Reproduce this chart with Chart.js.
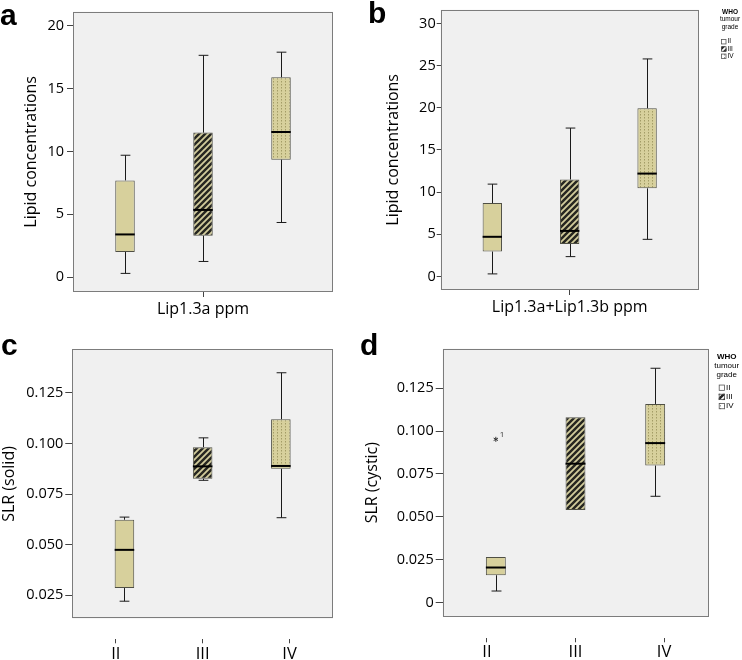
<!DOCTYPE html>
<html>
<head>
<meta charset="utf-8">
<script src="https://cdn.jsdelivr.net/npm/chart.js@4.4.1/dist/chart.umd.min.js"></script>
<style>
  body { margin: 0; background: #fff; }
  #wrap { position: relative; width: 742px; height: 660px; overflow: hidden; }
  canvas { position: absolute; }
  .tag { position: absolute; font: bold 30px "Liberation Sans", Arial, sans-serif; line-height: 1; color: #000; z-index: 2; }
</style>
</head>
<body>
<div id="wrap">
  <canvas id="chartA" width="340" height="330" style="left:0;top:0"></canvas>
  <canvas id="chartB" width="407" height="330" style="left:335px;top:0"></canvas>
  <canvas id="chartC" width="340" height="330" style="left:0;top:330px"></canvas>
  <canvas id="chartD" width="407" height="330" style="left:335px;top:330px"></canvas>
  <div class="tag" style="left:0;top:-0.5px">a</div>
  <div class="tag" style="left:368px;top:-2px">b</div>
  <div class="tag" style="left:1px;top:329.5px">c</div>
  <div class="tag" style="left:360px;top:329.5px">d</div>
</div>
<script>
// WHO grades (one box per grade)
const GRADES = ['II', 'III', 'IV'];
const LEGEND_TITLE = ['WHO', 'tumour', 'grade'];

// a: Lip1.3a ppm
const A_LOW = [0.3, 1.25, 4.35];
const A_Q1 = [2.0, 3.3, 9.35];
const A_MED = [3.4, 5.35, 11.55];
const A_Q3 = [7.7, 11.5, 15.9];
const A_HIGH = [9.7, 17.65, 17.9];
const A_TICKS = [0, 5, 10, 15, 20];

// b: Lip1.3a+Lip1.3b ppm
const B_LOW = [0.3, 2.35, 4.4];
const B_Q1 = [2.95, 3.85, 10.45];
const B_MED = [4.7, 5.4, 12.2];
const B_Q3 = [8.7, 11.5, 19.95];
const B_HIGH = [10.95, 17.6, 25.8];
const B_TICKS = [0, 5, 10, 15, 20, 25, 30];

// c: SLR (solid)
const C_LOW = [0.022, 0.0818, 0.0633];
const C_Q1 = [0.0285, 0.0826, 0.0875];
const C_MED = [0.0474, 0.0887, 0.0889];
const C_Q3 = [0.0623, 0.0982, 0.112];
const C_HIGH = [0.0636, 0.1028, 0.135];
const C_TICKS = [0.025, 0.05, 0.075, 0.1, 0.125];

// d: SLR (cystic)
const D_LOW = [0.0068, 0.054, 0.062];
const D_Q1 = [0.016, 0.054, 0.0799];
const D_MED = [0.0205, 0.081, 0.093];
const D_Q3 = [0.0267, 0.108, 0.1158];
const D_HIGH = [0.0267, 0.108, 0.1366];
const D_TICKS = [0, 0.025, 0.05, 0.075, 0.1, 0.125];
const D_OUT_GRADE = [0];
const D_OUT_VALUE = [0.0952];
const D_OUT_ID = ['1'];

const FONT = '"Open Sans", "Noto Sans", sans-serif';
const TAN = '#d7d09c';

function hatch(bg, fg) {
  const c = document.createElement('canvas');
  c.width = 6; c.height = 6;
  const g = c.getContext('2d');
  g.fillStyle = bg; g.fillRect(0, 0, 6, 6);
  g.strokeStyle = fg; g.lineWidth = 1.8;
  g.beginPath();
  g.moveTo(-1, 7); g.lineTo(7, -1);
  g.moveTo(-1, 1); g.lineTo(1, -1);
  g.moveTo(5, 7); g.lineTo(7, 5);
  g.stroke();
  return g.createPattern(c, 'repeat');
}

function dots(bg, fg) {
  const c = document.createElement('canvas');
  c.width = 4; c.height = 3;
  const g = c.getContext('2d');
  g.fillStyle = bg; g.fillRect(0, 0, 4, 3);
  g.fillStyle = fg; g.fillRect(1, 0, 1, 1.5);
  return g.createPattern(c, 'repeat');
}

const FILLS = [TAN, hatch('#262620', '#d2cc9c'), dots(TAN, '#a39c66')];
const KEY_FILLS = ['#ffffff', hatch('#222', '#fff'), dots('#fff', '#999')];

function fmt(v) {
  if (v === 0) return '0';
  return Number.isInteger(v) ? String(v) : v.toFixed(3);
}

// whiskers, medians, plot frame, outliers and the grade key
function makeExtras(p) {
  return {
    id: 'boxExtras',
    beforeDraw(chart) {
      const {ctx, chartArea: a} = chart;
      ctx.save();
      ctx.fillStyle = '#f0f0f0';
      ctx.fillRect(a.left, a.top, a.width, a.height);
      ctx.restore();
    },
    afterDatasetsDraw(chart) {
      const {ctx, chartArea: a} = chart;
      const y = chart.scales.y;
      ctx.save();
      GRADES.forEach((g, i) => {
        const bar = chart.getDatasetMeta(i).data[0];
        const x = Math.round(bar.x) + 0.5;
        const w = bar.width;
        const yLow = y.getPixelForValue(p.low[i]);
        const yQ1 = y.getPixelForValue(p.q1[i]);
        const yMed = y.getPixelForValue(p.med[i]);
        const yQ3 = y.getPixelForValue(p.q3[i]);
        const yHigh = y.getPixelForValue(p.high[i]);
        ctx.strokeStyle = '#1a1a1a';
        ctx.lineWidth = 1;
        ctx.beginPath();
        if (p.high[i] > p.q3[i]) {
          ctx.moveTo(x, yQ3); ctx.lineTo(x, yHigh);
          ctx.moveTo(x - w / 4, yHigh); ctx.lineTo(x + w / 4, yHigh);
        }
        if (p.low[i] < p.q1[i]) {
          ctx.moveTo(x, yQ1); ctx.lineTo(x, yLow);
          ctx.moveTo(x - w / 4, yLow); ctx.lineTo(x + w / 4, yLow);
        }
        ctx.stroke();
        ctx.lineWidth = 2;
        ctx.strokeStyle = '#000';
        ctx.beginPath();
        ctx.moveTo(bar.x - w / 2, yMed); ctx.lineTo(bar.x + w / 2, yMed);
        ctx.stroke();
      });

      if (p.outGrade) {
        p.outGrade.forEach((gi, k) => {
          const bar = chart.getDatasetMeta(gi).data[0];
          const ox = bar.x, oy = y.getPixelForValue(p.outValue[k]);
          ctx.strokeStyle = '#333';
          ctx.lineWidth = 1;
          ctx.beginPath();
          for (let t = 0; t < 3; t++) {
            const ang = Math.PI / 2 + t * Math.PI / 3;
            ctx.moveTo(ox - 2.5 * Math.cos(ang), oy - 2.5 * Math.sin(ang));
            ctx.lineTo(ox + 2.5 * Math.cos(ang), oy + 2.5 * Math.sin(ang));
          }
          ctx.stroke();
          ctx.fillStyle = '#333';
          ctx.font = '8px ' + FONT;
          ctx.textAlign = 'left';
          ctx.textBaseline = 'middle';
          ctx.fillText(p.outId[k], ox + 4, oy - 5);
        });
      }

      ctx.strokeStyle = '#7c7c7c';
      ctx.lineWidth = 1;
      ctx.strokeRect(Math.round(a.left) + 0.5, Math.round(a.top) + 0.5,
        Math.round(a.width) - 1, Math.round(a.height) - 1);
      ctx.restore();
    },
    afterDraw(chart) {
      const k = p.key;
      if (!k) return;
      const ctx = chart.ctx;
      ctx.save();
      ctx.fillStyle = '#000';
      ctx.textAlign = 'center';
      ctx.textBaseline = 'middle';
      LEGEND_TITLE.forEach((t, i) => {
        ctx.font = (i === 0 ? 'bold ' : '') + k.fs + 'px "Liberation Sans", Arial, sans-serif';
        ctx.fillText(t, k.cx, k.y0 + i * k.step);
      });
      ctx.font = k.fs + 'px "Liberation Sans", Arial, sans-serif';
      ctx.textAlign = 'left';
      GRADES.forEach((g, i) => {
        const yy = k.iy0 + i * k.istep;
        ctx.fillStyle = KEY_FILLS[i];
        ctx.fillRect(k.sx, yy - k.sw / 2, k.sw, k.sw);
        ctx.strokeStyle = '#555';
        ctx.lineWidth = 0.8;
        ctx.strokeRect(k.sx + 0.5, yy - k.sw / 2 + 0.5, k.sw - 1, k.sw - 1);
        ctx.fillStyle = '#000';
        ctx.fillText(g, k.sx + k.sw + 1, yy);
      });
      ctx.restore();
    }
  };
}

function makePanel(id, p) {
  const datasets = GRADES.map((g, i) => ({
    label: g,
    data: [[p.q1[i], p.q3[i]]],
    backgroundColor: FILLS[i],
    borderColor: '#4f4f44',
    borderWidth: 1,
    borderSkipped: false,
    categoryPercentage: 0.9,
    barPercentage: 0.25,
    xAxisID: 'x',
    yAxisID: 'y'
  }));

  const scales = {
    x: {
      type: 'category',
      labels: [p.groupLabel || ''],
      display: !p.gradeAxis,
      offset: true,
      grid: { offset: false, drawOnChartArea: false, tickLength: 5, color: '#444' },
      border: { display: false },
      ticks: { color: '#000', font: { family: FONT, size: 16, lineHeight: 1.2 }, padding: p.xPad },
      afterFit: s => { s.height = p.xH; }
    },
    y: {
      type: 'linear',
      min: p.yMin,
      max: p.yMax,
      afterBuildTicks: s => { s.ticks = p.ticks.map(v => ({ value: v })); },
      afterFit: s => { s.width = p.yW; },
      grid: { drawOnChartArea: false, tickLength: p.tickLen, color: '#444' },
      border: { display: false },
      ticks: { padding: p.tickPad, color: '#000', font: { family: FONT, size: 14.5 }, callback: v => fmt(v) },
      title: {
        display: true, text: p.yTitle, color: '#000',
        font: { family: FONT, size: 16, lineHeight: 1.2 },
        padding: { top: p.titlePad, bottom: 0 }
      }
    }
  };

  if (p.gradeAxis) {
    scales.x2 = {
      type: 'category',
      labels: GRADES,
      position: 'bottom',
      min: 0,
      max: 2,
      offset: true,
      grid: { offset: false, drawOnChartArea: false, tickLength: 4, color: '#444' },
      border: { display: false },
      ticks: { color: '#000', font: { family: FONT, size: 16.5, lineHeight: 1.2 }, padding: p.xPad },
      afterFit: s => { s.height = p.xH; }
    };
  }

  return new Chart(document.getElementById(id).getContext('2d'), {
    type: 'bar',
    data: { labels: [p.groupLabel || ''], datasets },
    options: {
      responsive: false,
      animation: false,
      layout: { padding: p.pad },
      plugins: { legend: { display: false }, tooltip: { enabled: false } },
      scales
    },
    plugins: [makeExtras(p)]
  });
}

makePanel('chartA', {
  low: A_LOW, q1: A_Q1, med: A_MED, q3: A_Q3, high: A_HIGH, ticks: A_TICKS,
  yMin: -1.18, yMax: 21.12, yTitle: 'Lipid concentrations', groupLabel: 'Lip1.3a ppm',
  pad: { top: 2.5, right: 7, bottom: 0, left: 0 }, yW: 73, xH: 38, xPad: 2.4,
  tickLen: 6, tickPad: 3, titlePad: 21.4
});

makePanel('chartB', {
  low: B_LOW, q1: B_Q1, med: B_MED, q3: B_Q3, high: B_HIGH, ticks: B_TICKS,
  yMin: -1.61, yMax: 31.64, yTitle: 'Lipid concentrations', groupLabel: 'Lip1.3a+Lip1.3b ppm',
  pad: { top: 1.5, right: 43.3, bottom: 0, left: 0 }, yW: 105.7, xH: 40, xPad: 2.4,
  tickLen: 4, tickPad: 1, titlePad: 48.4,
  key: { cx: 395, y0: 12.3, step: 7.3, fs: 6.5, sx: 386, sw: 5.5, iy0: 41.7, istep: 7.3 }
});

makePanel('chartC', {
  low: C_LOW, q1: C_Q1, med: C_MED, q3: C_Q3, high: C_HIGH, ticks: C_TICKS,
  yMin: 0.0134, yMax: 0.1466, yTitle: 'SLR (solid)', gradeAxis: true,
  pad: { top: 19.3, right: 7, bottom: 0, left: 0 }, yW: 72.3, xH: 20.7, xPad: 1,
  tickLen: 7, tickPad: 2, titlePad: 0
});

makePanel('chartD', {
  low: D_LOW, q1: D_Q1, med: D_MED, q3: D_Q3, high: D_HIGH, ticks: D_TICKS,
  yMin: -0.0081, yMax: 0.148, yTitle: 'SLR (cystic)', gradeAxis: true,
  outGrade: D_OUT_GRADE, outValue: D_OUT_VALUE, outId: D_OUT_ID,
  pad: { top: 18.7, right: 33.7, bottom: 0, left: 0 }, yW: 107.7, xH: 21.7, xPad: 0,
  tickLen: 7, tickPad: 2, titlePad: 27.9,
  key: { cx: 391.7, y0: 26.7, step: 9.2, fs: 8, sx: 383.7, sw: 6.3, iy0: 57.7, istep: 9.2 }
});
</script>
</body>
</html>
